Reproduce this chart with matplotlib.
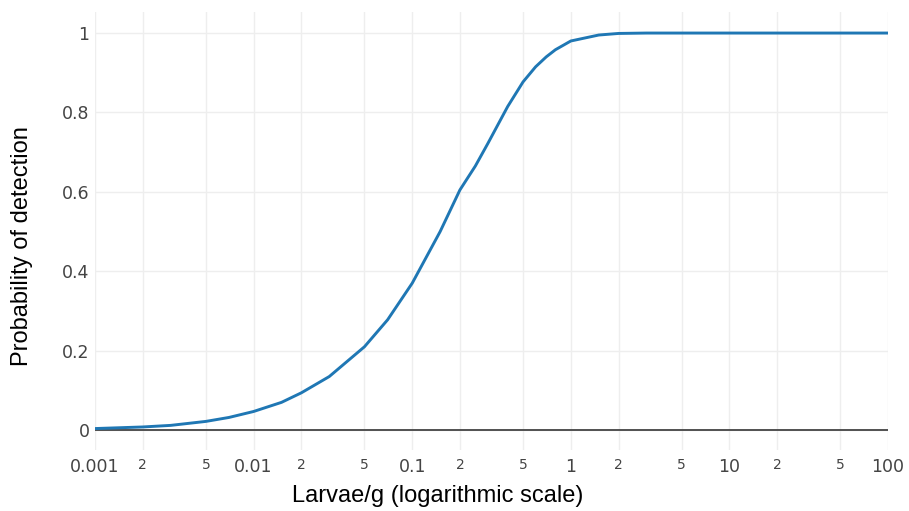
import matplotlib
matplotlib.use("Agg")
import matplotlib.pyplot as plt
from matplotlib.ticker import FixedLocator, FixedFormatter

# Data
larvae_per_g = [0.001, 0.002, 0.003, 0.005, 0.007, 0.01, 0.015, 0.02, 0.03, 0.05,
                0.07, 0.1, 0.15, 0.2, 0.25, 0.3, 0.4, 0.5, 0.6, 0.7, 0.8, 1.0,
                1.5, 2.0, 3.0, 5.0, 10.0, 20.0, 50.0, 100.0]
prob_detect = [0.004, 0.008, 0.012, 0.022, 0.032, 0.047, 0.070, 0.094, 0.135, 0.21,
               0.278, 0.37, 0.50, 0.605, 0.665, 0.722, 0.815, 0.877, 0.915, 0.94, 0.958, 0.98,
               0.995, 0.999, 1.0, 1.0, 1.0, 1.0, 1.0, 1.0]

major_ticks = [0.001, 0.01, 0.1, 1, 10, 100]
major_labels = ["0.001", "0.01", "0.1", "1", "10", "100"]
minor_ticks = [0.002, 0.005, 0.02, 0.05, 0.2, 0.5, 2, 5, 20, 50]
minor_labels = ["2", "5", "2", "5", "2", "5", "2", "5", "2", "5"]
y_ticks = [0, 0.2, 0.4, 0.6, 0.8, 1]
y_labels = ["0", "0.2", "0.4", "0.6", "0.8", "1"]

fig = plt.figure(figsize=(9.09, 5.11), dpi=100)
ax = fig.add_axes([95/909, 61/511, 793/909, 438/511])

ax.plot(larvae_per_g, prob_detect, color="#1f77b4", lw=2.1, zorder=3, solid_joinstyle="round")
ax.axhline(0, color="#444444", lw=1.3, zorder=2)

ax.set_xscale("log")
ax.set_xlim(0.001, 100)
ax.set_ylim(-0.05, 1.053)

ax.xaxis.set_major_locator(FixedLocator(major_ticks))
ax.xaxis.set_major_formatter(FixedFormatter(major_labels))
ax.xaxis.set_minor_locator(FixedLocator(minor_ticks))
ax.xaxis.set_minor_formatter(FixedFormatter(minor_labels))
ax.set_yticks(y_ticks)
ax.set_yticklabels(y_labels)

ax.grid(True, which="both", axis="x", color="#eeeeee", lw=1.0, zorder=0)
ax.grid(True, which="major", axis="y", color="#eeeeee", lw=1.0, zorder=0)
ax.set_axisbelow(True)

for s in ax.spines.values():
    s.set_visible(False)

ax.tick_params(axis="x", which="major", length=0, pad=6, labelsize=12.5,
               labelcolor="#444444")
ax.tick_params(axis="x", which="minor", length=0, pad=6, labelsize=10,
               labelcolor="#444444")
ax.tick_params(axis="y", length=0, pad=4, labelsize=12.5, labelcolor="#444444")
for lab in ax.get_xticklabels(which="both") + ax.get_yticklabels():
    lab.set_fontfamily("DejaVu Sans")

ax.set_xlabel("Larvae/g (logarithmic scale)", fontsize=17, family="Liberation Sans",
              color="black", va="center")
ax.xaxis.set_label_coords(0.4325, -0.105)
ax.set_ylabel("Probability of detection", fontsize=17, family="Liberation Sans",
              color="black", va="center")
ax.yaxis.set_label_coords(-0.092, 0.4646)

fig.savefig("out.png", dpi=100)
